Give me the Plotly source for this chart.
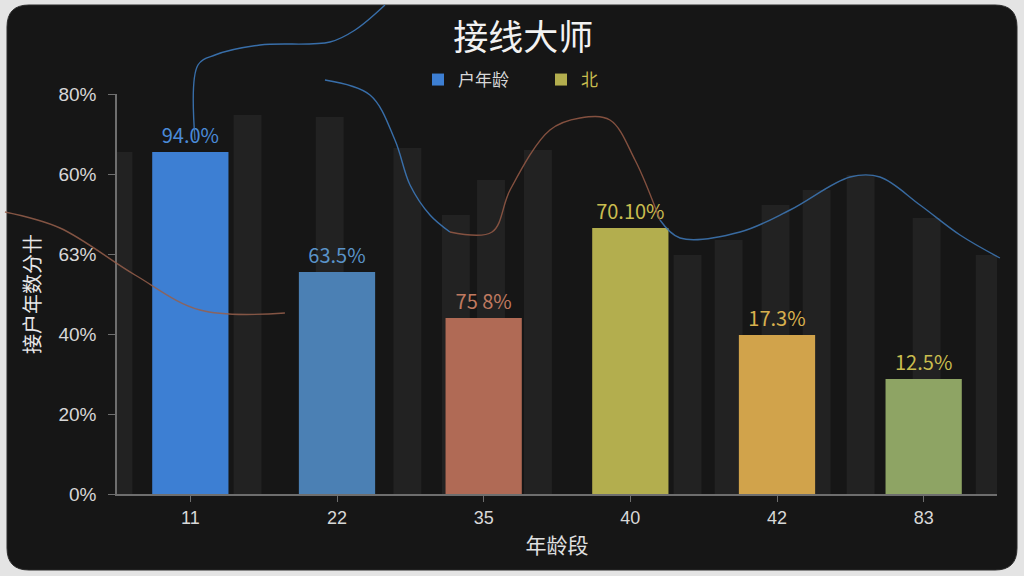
import plotly.graph_objects as go

# ---- data ----
categories = ["11", "22", "35", "40", "42", "83"]
bar_values = [85.5, 55.5, 44.0, 66.5, 39.75, 28.75]
bar_labels = ["94.0%", "63.5%", "75 8%", "70.10%", "17.3%", "12.5%"]
bar_colors = ["#3d7fd3", "#4b80b4", "#b06a55", "#b3ae4e", "#d1a34b", "#8ea464"]
label_colors = ["#4a8ad8", "#5a93c8", "#c07a60", "#c9bd4f", "#d8b04e", "#c9bd4f"]
series_a_count = 3  # first three bars -> "户年龄", rest -> "北"

y_tickvals = [0, 20, 40, 60, 80, 100]
y_ticktext = ["0%", "20%", "40%", "63%", "60%", "80%"]

# faint background bars (index units, percent units)
bg_x = [-0.49, 0.39, 0.95, 1.48, 1.81, 2.05, 2.37, 3.39, 3.67, 3.99, 4.27, 4.57, 5.02, 5.45]
bg_y = [85.5, 94.75, 94.25, 86.5, 69.75, 78.5, 86.0, 59.75, 63.5, 72.25, 76.0, 79.75, 69.0, 59.75]

# decorative trend lines (index units, percent units)
trend1_x = [-1.264, -0.889, -0.377, 0.066, 0.645]
trend1_y = [70.5, 66.5, 54.75, 46.0, 45.25]
trend2_x = [0.032, 0.052, 0.168, 0.475, 0.952, 1.123, 1.327]
trend2_y = [88.5, 107.25, 109.75, 112.25, 113.0, 116.0, 122.25]
trend3_x = [0.918, 1.225, 1.395, 1.498, 1.634, 1.770]
trend3_y = [103.5, 99.75, 88.5, 77.25, 69.75, 65.5]
trend4_x = [1.770, 2.057, 2.180, 2.452, 2.657, 2.861, 3.032, 3.202]
trend4_y = [65.5, 65.5, 76.0, 91.0, 94.0, 93.5, 83.5, 68.5]
trend5_x = [3.202, 3.339, 3.748, 4.089, 4.498, 4.702, 4.975, 5.248, 5.520]
trend5_y = [68.5, 64.0, 65.5, 71.0, 79.25, 79.25, 72.25, 64.75, 59.0]

FONT = "Noto Sans CJK SC, Noto Sans, sans-serif"
TICKFONT = "Liberation Sans, Arial, sans-serif"
W, H = 1024, 576
PL, PR, PT, PB = 117, 997, 94, 494  # plot area in px

idx = list(range(len(categories)))
n = len(categories)
px_per_x = (PR - PL) / n
x_lo, x_hi = -0.5, n - 0.5
px_per_y = (PB - PT) / (y_tickvals[-1] - y_tickvals[0])

fig = go.Figure()

fig.add_trace(go.Bar(
    x=bg_x, y=bg_y, width=0.19, marker=dict(color="rgba(255,255,255,0.055)", line=dict(width=0)),
    showlegend=False, hoverinfo="skip"))

groups = [(0, series_a_count, "户年龄"),
          (series_a_count, n, "<span style='color:#c9bd4f'>北</span>")]
for a, b, name in groups:
    fig.add_trace(go.Bar(
        x=idx[a:b], y=bar_values[a:b], width=0.52, name=name,
        marker=dict(color=bar_colors[a:b], line=dict(width=0)),
        text=bar_labels[a:b], textposition="outside", cliponaxis=False,
        textfont=dict(color=label_colors[a:b], size=20, family=FONT),
    ))

line_styles = [
    (trend1_x, trend1_y, "rgba(150,95,75,0.85)"),
    (trend2_x, trend2_y, "rgba(60,120,185,0.9)"),
    (trend3_x, trend3_y, "rgba(60,120,185,0.9)"),
    (trend4_x, trend4_y, "rgba(150,90,70,0.85)"),
    (trend5_x, trend5_y, "rgba(60,115,175,0.9)"),
]
for tx, ty, col in line_styles:
    fig.add_trace(go.Scatter(
        x=tx, y=ty, mode="lines", line=dict(color=col, width=1.4, shape="spline"),
        xaxis="x2", yaxis="y2", showlegend=False, hoverinfo="skip"))

# overlay axes spanning the whole page, with same units as the main chart
x2_lo = x_lo - PL / px_per_x
x2_hi = x_hi + (W - PR) / px_per_x
y2_lo = -(H - PB) / px_per_y
y2_hi = y_tickvals[-1] + PT / px_per_y

# rounded dark card (paper coords)
r = 22
x0, y0, x1, y1 = 7, 5, 1017, 570
sx = lambda v: v / W
sy = lambda v: 1 - v / H
path_paper = (f"M {sx(x0+r)},{sy(y0)} L {sx(x1-r)},{sy(y0)} Q {sx(x1)},{sy(y0)} {sx(x1)},{sy(y0+r)} "
              f"L {sx(x1)},{sy(y1-r)} Q {sx(x1)},{sy(y1)} {sx(x1-r)},{sy(y1)} "
              f"L {sx(x0+r)},{sy(y1)} Q {sx(x0)},{sy(y1)} {sx(x0)},{sy(y1-r)} "
              f"L {sx(x0)},{sy(y0+r)} Q {sx(x0)},{sy(y0)} {sx(x0+r)},{sy(y0)} Z")

fig.update_layout(
    width=W, height=H,
    margin=dict(l=0, r=0, t=0, b=0, autoexpand=False),
    paper_bgcolor="#e4e4e4",
    plot_bgcolor="rgba(0,0,0,0)",
    barmode="overlay",
    font=dict(family=FONT, color="#d8d8d8"),
    title=dict(text="接线大师", x=0.511, xanchor="center", y=1 - 38 / H, yanchor="middle",
               font=dict(size=35, color="#f2f2f2", family=FONT)),
    legend=dict(orientation="h", x=418 / W, xanchor="left", y=1 - 80 / H, yanchor="middle",
                entrywidth=78, entrywidthmode="pixels",
                font=dict(size=17, color="#d8d8d8", family=FONT), bgcolor="rgba(0,0,0,0)"),
    xaxis=dict(domain=[PL / W, PR / W], range=[x_lo, x_hi], tickvals=idx, ticktext=categories,
               showgrid=False, zeroline=False, showline=True, linecolor="#6e6e6e", linewidth=2,
               ticks="outside", ticklen=6, tickcolor="#6e6e6e", automargin=False,
               tickfont=dict(size=18, color="#d8d8d8", family=TICKFONT),
               title=dict(text="年龄段", font=dict(size=21, color="#e0e0e0"), standoff=12),
               anchor="y"),
    yaxis=dict(domain=[(H - PB) / H, (H - PT) / H], range=[y_tickvals[0], y_tickvals[-1]],
               tickvals=y_tickvals, ticktext=y_ticktext, automargin=False,
               showgrid=False, zeroline=False, showline=True, linecolor="#6e6e6e", linewidth=1.5,
               ticks="outside", ticklen=7, tickcolor="#6e6e6e", ticklabelstandoff=8,
               tickfont=dict(size=19, color="#d8d8d8", family=TICKFONT),
               title=dict(text="接户年数分卄", font=dict(size=20, color="#e8e8e8"), standoff=12),
               anchor="x"),
    xaxis2=dict(domain=[0, 1], range=[x2_lo, x2_hi], visible=False, anchor="y2",
                fixedrange=True, automargin=False),
    yaxis2=dict(domain=[0, 1], range=[y2_lo, y2_hi], visible=False, anchor="x2",
                fixedrange=True, automargin=False),
    shapes=[dict(type="path", path=path_paper, xref="paper", yref="paper", layer="below",
                 fillcolor="#161616", line=dict(color="#2a2a2a", width=1))],
)

fig.write_html("out.html", config={"displayModeBar": False},
               post_script="document.body.style.margin='0';document.body.style.overflow='hidden';")
